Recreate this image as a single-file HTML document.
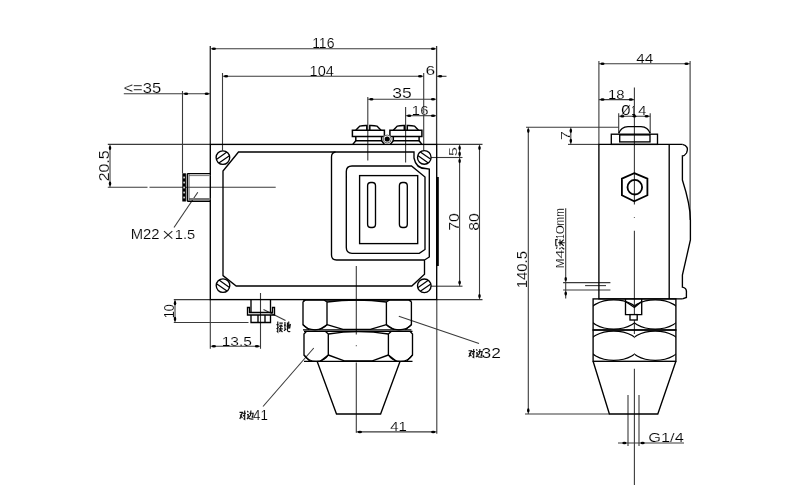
<!DOCTYPE html>
<html><head><meta charset="utf-8"><style>
html,body{margin:0;padding:0;background:#fff;width:800px;height:500px;overflow:hidden}
svg{display:block;filter:grayscale(1)}
.t{font-family:"Liberation Mono",monospace;fill:#000;stroke:#fff;stroke-width:0.2px}
.ts{font-family:"Liberation Sans",sans-serif;fill:#000;stroke:#fff;stroke-width:0.15px}
g.txt{will-change:transform}
</style></head><body>
<svg width="800" height="500" viewBox="0 0 800 500">
<rect width="800" height="500" fill="#fff"/>
<line x1="210.3" y1="46" x2="210.3" y2="144.4" stroke="#333" stroke-width="1.4"/>
<line x1="436.6" y1="46" x2="436.6" y2="144.4" stroke="#333" stroke-width="1.3"/>
<line x1="210.3" y1="48.7" x2="436.6" y2="48.7" stroke="#3a3a3a" stroke-width="1.1"/>
<ellipse cx="213.90" cy="48.70" rx="2.1" ry="1.25" fill="#000"/>
<ellipse cx="433.00" cy="48.70" rx="2.1" ry="1.25" fill="#000"/>
<text x="312.13" y="48.40" font-size="14.44" textLength="22.33" lengthAdjust="spacingAndGlyphs" class="ts">116</text>
<line x1="222.5" y1="73" x2="222.5" y2="150.6" stroke="#3a3a3a" stroke-width="1.1"/>
<line x1="423.7" y1="73" x2="423.7" y2="150.6" stroke="#3a3a3a" stroke-width="1.1"/>
<line x1="222.5" y1="76.3" x2="423.7" y2="76.3" stroke="#3a3a3a" stroke-width="1.1"/>
<line x1="436.6" y1="76.3" x2="446.5" y2="76.3" stroke="#3a3a3a" stroke-width="1.1"/>
<ellipse cx="226.10" cy="76.30" rx="2.1" ry="1.25" fill="#000"/>
<ellipse cx="420.10" cy="76.30" rx="2.1" ry="1.25" fill="#000"/>
<ellipse cx="440.20" cy="76.30" rx="2.1" ry="1.25" fill="#000"/>
<text x="309.57" y="75.60" font-size="13.89" textLength="24.27" lengthAdjust="spacingAndGlyphs" class="ts">104</text>
<text x="425.51" y="75.00" font-size="13.19" textLength="9.68" lengthAdjust="spacingAndGlyphs" class="ts">6</text>
<line x1="367.8" y1="97" x2="367.8" y2="160.6" stroke="#3a3a3a" stroke-width="1.1"/>
<line x1="367.8" y1="99.3" x2="436.6" y2="99.3" stroke="#3a3a3a" stroke-width="1.1"/>
<ellipse cx="371.40" cy="99.30" rx="2.1" ry="1.25" fill="#000"/>
<ellipse cx="433.00" cy="99.30" rx="2.1" ry="1.25" fill="#000"/>
<text x="392.36" y="98.40" font-size="14.03" textLength="19.48" lengthAdjust="spacingAndGlyphs" class="ts">35</text>
<line x1="405.6" y1="107" x2="405.6" y2="162.5" stroke="#3a3a3a" stroke-width="1.1"/>
<line x1="405.6" y1="115.7" x2="436.6" y2="115.7" stroke="#3a3a3a" stroke-width="1.1"/>
<ellipse cx="409.20" cy="115.70" rx="2.1" ry="1.25" fill="#000"/>
<ellipse cx="433.00" cy="115.70" rx="2.1" ry="1.25" fill="#000"/>
<text x="411.89" y="114.60" font-size="13.47" textLength="16.52" lengthAdjust="spacingAndGlyphs" class="ts">16</text>
<line x1="123.8" y1="93.7" x2="210.3" y2="93.7" stroke="#3a3a3a" stroke-width="1.1"/>
<line x1="182.5" y1="91" x2="182.5" y2="173.3" stroke="#3a3a3a" stroke-width="1.1"/>
<ellipse cx="186.10" cy="93.70" rx="2.1" ry="1.25" fill="#000"/>
<ellipse cx="206.70" cy="93.70" rx="2.1" ry="1.25" fill="#000"/>
<text x="123.40" y="92.80" font-size="15.00" textLength="37.80" lengthAdjust="spacingAndGlyphs" class="ts">&lt;=35</text>
<line x1="107.8" y1="144.4" x2="210.3" y2="144.4" stroke="#3a3a3a" stroke-width="1.1"/>
<line x1="107.8" y1="187.3" x2="147.5" y2="187.3" stroke="#3a3a3a" stroke-width="1.1"/>
<line x1="149.5" y1="187.3" x2="275.7" y2="187.3" stroke="#3a3a3a" stroke-width="1.1"/>
<line x1="110" y1="144.4" x2="110" y2="187.3" stroke="#3a3a3a" stroke-width="1.1"/>
<ellipse cx="110.00" cy="148.00" rx="1.25" ry="2.1" fill="#000"/>
<ellipse cx="110.00" cy="183.70" rx="1.25" ry="2.1" fill="#000"/>
<g transform="translate(108.50,180.50) rotate(-90)"><text x="-0.85" y="0" font-size="14.17" textLength="30.90" lengthAdjust="spacingAndGlyphs" class="ts">20.5</text></g>
<line x1="197.8" y1="192.2" x2="174" y2="227.5" stroke="#3a3a3a" stroke-width="1.1"/>
<text x="130.70" y="238.90" font-size="15.00" textLength="28.90" lengthAdjust="spacingAndGlyphs" class="ts">M22</text>
<line x1="164" y1="231.2" x2="172.3" y2="238.6" stroke="#222" stroke-width="1.1"/>
<line x1="172.3" y1="231.2" x2="164" y2="238.6" stroke="#222" stroke-width="1.1"/>
<text x="174.79" y="238.90" font-size="13.47" textLength="20.42" lengthAdjust="spacingAndGlyphs" class="ts">1.5</text>
<line x1="436.6" y1="144.4" x2="482.5" y2="144.4" stroke="#3a3a3a" stroke-width="1.1"/>
<line x1="431" y1="157.5" x2="462.5" y2="157.5" stroke="#3a3a3a" stroke-width="1.1"/>
<line x1="431" y1="286.2" x2="462.5" y2="286.2" stroke="#3a3a3a" stroke-width="1.1"/>
<line x1="437" y1="299.6" x2="482.5" y2="299.6" stroke="#3a3a3a" stroke-width="1.1"/>
<line x1="459.6" y1="144.4" x2="459.6" y2="286.2" stroke="#3a3a3a" stroke-width="1.1"/>
<ellipse cx="459.60" cy="148.00" rx="1.25" ry="2.1" fill="#000"/>
<ellipse cx="459.60" cy="153.90" rx="1.25" ry="2.1" fill="#000"/>
<ellipse cx="459.60" cy="161.10" rx="1.25" ry="2.1" fill="#000"/>
<ellipse cx="459.60" cy="282.60" rx="1.25" ry="2.1" fill="#000"/>
<g transform="translate(456.50,155.30) rotate(-90)"><text x="-0.67" y="0" font-size="11.11" textLength="8.83" lengthAdjust="spacingAndGlyphs" class="ts">5</text></g>
<g transform="translate(459.00,230.00) rotate(-90)"><text x="-0.83" y="0" font-size="13.89" textLength="17.67" lengthAdjust="spacingAndGlyphs" class="ts">70</text></g>
<line x1="479.5" y1="144.4" x2="479.5" y2="299.6" stroke="#3a3a3a" stroke-width="1.1"/>
<ellipse cx="479.50" cy="148.00" rx="1.25" ry="2.1" fill="#000"/>
<ellipse cx="479.50" cy="296.00" rx="1.25" ry="2.1" fill="#000"/>
<g transform="translate(479.00,230.00) rotate(-90)"><text x="-0.83" y="0" font-size="13.89" textLength="17.67" lengthAdjust="spacingAndGlyphs" class="ts">80</text></g>
<line x1="173.8" y1="299.6" x2="210.3" y2="299.6" stroke="#3a3a3a" stroke-width="1.1"/>
<line x1="173.8" y1="322.5" x2="248.5" y2="322.5" stroke="#3a3a3a" stroke-width="1.1"/>
<line x1="175" y1="299.6" x2="175" y2="322.5" stroke="#3a3a3a" stroke-width="1.1"/>
<ellipse cx="175.00" cy="303.20" rx="1.25" ry="2.1" fill="#000"/>
<ellipse cx="175.00" cy="318.90" rx="1.25" ry="2.1" fill="#000"/>
<g transform="translate(173.80,317.50) rotate(-90)"><text x="-0.83" y="0" font-size="13.89" textLength="14.17" lengthAdjust="spacingAndGlyphs" class="ts">10</text></g>
<line x1="210.3" y1="299.6" x2="210.3" y2="348.8" stroke="#3a3a3a" stroke-width="1.1"/>
<line x1="260.5" y1="293" x2="260.5" y2="348.8" stroke="#3a3a3a" stroke-width="1.1"/>
<line x1="210.3" y1="346.3" x2="260.5" y2="346.3" stroke="#3a3a3a" stroke-width="1.1"/>
<ellipse cx="213.90" cy="346.30" rx="2.1" ry="1.25" fill="#000"/>
<ellipse cx="256.90" cy="346.30" rx="2.1" ry="1.25" fill="#000"/>
<text x="221.71" y="345.50" font-size="13.19" textLength="30.28" lengthAdjust="spacingAndGlyphs" class="ts">13.5</text>
<line x1="263.5" y1="309.5" x2="285.5" y2="320.5" stroke="#3a3a3a" stroke-width="1.1"/>
<line x1="398.8" y1="316.3" x2="479" y2="343.5" stroke="#3a3a3a" stroke-width="1.1"/>
<line x1="313.8" y1="348" x2="263" y2="406.5" stroke="#3a3a3a" stroke-width="1.1"/>
<line x1="356.3" y1="266" x2="356.3" y2="334.6" stroke="#3a3a3a" stroke-width="1.1"/>
<circle cx="356.3" cy="345.7" r="0.6" fill="#555"/>
<line x1="356.3" y1="362.4" x2="356.3" y2="432.8" stroke="#3a3a3a" stroke-width="1.1"/>
<line x1="436.8" y1="299.6" x2="436.8" y2="433.8" stroke="#3a3a3a" stroke-width="1.1"/>
<line x1="356.3" y1="431.9" x2="436.8" y2="431.9" stroke="#3a3a3a" stroke-width="1.1"/>
<ellipse cx="359.90" cy="431.90" rx="2.1" ry="1.25" fill="#000"/>
<ellipse cx="433.20" cy="431.90" rx="2.1" ry="1.25" fill="#000"/>
<text x="390.20" y="430.60" font-size="13.33" textLength="16.60" lengthAdjust="spacingAndGlyphs" class="ts">41</text>
<text x="253.08" y="420.00" font-size="15.28" textLength="14.83" lengthAdjust="spacingAndGlyphs" class="ts">41</text>
<text x="481.58" y="358.00" font-size="15.28" textLength="19.33" lengthAdjust="spacingAndGlyphs" class="ts">32</text>
<line x1="598.9" y1="61" x2="598.9" y2="144.4" stroke="#3a3a3a" stroke-width="1.1"/>
<line x1="690.1" y1="61" x2="690.1" y2="220" stroke="#3a3a3a" stroke-width="1.1"/>
<line x1="598.9" y1="63.8" x2="690.1" y2="63.8" stroke="#3a3a3a" stroke-width="1.1"/>
<ellipse cx="602.50" cy="63.80" rx="2.1" ry="1.25" fill="#000"/>
<ellipse cx="686.50" cy="63.80" rx="2.1" ry="1.25" fill="#000"/>
<text x="636.23" y="63.00" font-size="12.92" textLength="17.05" lengthAdjust="spacingAndGlyphs" class="ts">44</text>
<line x1="634.4" y1="87.5" x2="634.4" y2="204.5" stroke="#3a3a3a" stroke-width="1.1"/>
<line x1="634.4" y1="217" x2="634.4" y2="217.8" stroke="#3a3a3a" stroke-width="1.1"/>
<line x1="634.4" y1="230.7" x2="634.4" y2="334" stroke="#3a3a3a" stroke-width="1.1"/>
<line x1="598.9" y1="99.6" x2="634.4" y2="99.6" stroke="#3a3a3a" stroke-width="1.1"/>
<ellipse cx="602.50" cy="99.60" rx="2.1" ry="1.25" fill="#000"/>
<ellipse cx="630.80" cy="99.60" rx="2.1" ry="1.25" fill="#000"/>
<text x="608.02" y="98.80" font-size="12.92" textLength="16.55" lengthAdjust="spacingAndGlyphs" class="ts">18</text>
<line x1="618.7" y1="113.2" x2="618.7" y2="133" stroke="#3a3a3a" stroke-width="1.1"/>
<line x1="650.2" y1="113.2" x2="650.2" y2="133" stroke="#3a3a3a" stroke-width="1.1"/>
<line x1="618.7" y1="116.3" x2="650.2" y2="116.3" stroke="#3a3a3a" stroke-width="1.1"/>
<ellipse cx="622.30" cy="116.30" rx="2.1" ry="1.25" fill="#000"/>
<ellipse cx="646.60" cy="116.30" rx="2.1" ry="1.25" fill="#000"/>
<text x="621.12" y="114.80" font-size="14.63" textLength="9.76" lengthAdjust="spacingAndGlyphs" class="t">Ø</text>
<text x="631.55" y="115.00" font-size="12.50" textLength="4.10" lengthAdjust="spacingAndGlyphs" class="ts">1</text>
<text x="638.18" y="115.00" font-size="13.61" textLength="8.13" lengthAdjust="spacingAndGlyphs" class="ts">4</text>
<ellipse cx="634.4" cy="116.3" rx="1.9" ry="1.2" fill="#000"/>
<line x1="526" y1="127.2" x2="618.7" y2="127.2" stroke="#3a3a3a" stroke-width="1.1"/>
<line x1="568" y1="144.4" x2="598.9" y2="144.4" stroke="#3a3a3a" stroke-width="1.1"/>
<line x1="570.8" y1="127.2" x2="570.8" y2="144.4" stroke="#3a3a3a" stroke-width="1.1"/>
<ellipse cx="570.80" cy="130.80" rx="1.25" ry="2.1" fill="#000"/>
<ellipse cx="570.80" cy="140.80" rx="1.25" ry="2.1" fill="#000"/>
<g transform="translate(569.60,139.20) rotate(-90)"><text x="-0.80" y="0" font-size="13.33" textLength="8.80" lengthAdjust="spacingAndGlyphs" class="ts">7</text></g>
<line x1="528.3" y1="127.2" x2="528.3" y2="414" stroke="#3a3a3a" stroke-width="1.1"/>
<line x1="525" y1="414" x2="609.4" y2="414" stroke="#3a3a3a" stroke-width="1.1"/>
<ellipse cx="528.30" cy="130.80" rx="1.25" ry="2.1" fill="#000"/>
<ellipse cx="528.30" cy="410.40" rx="1.25" ry="2.1" fill="#000"/>
<g transform="translate(527.20,287.40) rotate(-90)"><text x="-0.90" y="0" font-size="15.00" textLength="37.20" lengthAdjust="spacingAndGlyphs" class="ts">140.5</text></g>
<line x1="565.7" y1="208.2" x2="565.7" y2="298.4" stroke="#3a3a3a" stroke-width="1.1"/>
<ellipse cx="565.70" cy="279.00" rx="1.25" ry="2.1" fill="#000"/>
<ellipse cx="565.70" cy="293.60" rx="1.25" ry="2.1" fill="#000"/>
<line x1="563.1" y1="282.6" x2="610.4" y2="282.6" stroke="#3a3a3a" stroke-width="1.1"/>
<line x1="563.1" y1="290" x2="610.4" y2="290" stroke="#3a3a3a" stroke-width="1.1"/>
<line x1="585.1" y1="285.6" x2="606" y2="285.6" stroke="#3a3a3a" stroke-width="1.1"/>
<line x1="628" y1="395" x2="628" y2="446" stroke="#3a3a3a" stroke-width="1.1"/>
<line x1="639" y1="395" x2="639" y2="446" stroke="#3a3a3a" stroke-width="1.1"/>
<line x1="618" y1="443" x2="684" y2="443" stroke="#3a3a3a" stroke-width="1.1"/>
<ellipse cx="624.40" cy="443.00" rx="2.1" ry="1.25" fill="#000"/>
<ellipse cx="642.60" cy="443.00" rx="2.1" ry="1.25" fill="#000"/>
<line x1="634.4" y1="368.8" x2="634.4" y2="485" stroke="#3a3a3a" stroke-width="1.1"/>
<text x="648.25" y="442.00" font-size="12.50" textLength="35.50" lengthAdjust="spacingAndGlyphs" class="ts">G1/4</text>
<rect x="210.3" y="144.4" width="226.4" height="155.2" fill="none" stroke="#000" stroke-width="1.35"/>
<rect x="436.2" y="177" width="2.6" height="89" fill="#000"/>
<path d="M238.5,152 L414,152 L414,158 Q416,168.5 425.5,168.5 L429.3,169 L429.3,257 L424.5,260 L424.5,274.3 L411.8,286 L236.2,286 L223,275.6 L223,171 Z" stroke="#000" stroke-width="1.35" fill="none"/>
<path d="M335.5,152 Q331.5,152.5 331.5,157 L331.5,255 Q331.5,260 336.5,260 L424.5,260" stroke="#000" stroke-width="1.35" fill="none"/>
<path d="M352,166 L411.5,166 L425,177 L425,249.5 L419.3,253.3 L352,253.3 Q346.3,253.3 346.3,247.5 L346.3,171.5 Q346.3,166 352,166 Z" stroke="#000" stroke-width="1.35" fill="none"/>
<rect x="359.6" y="175.6" width="58.1" height="68" fill="none" stroke="#000" stroke-width="1.35"/>
<rect x="367.6" y="182.5" width="7.9" height="45" rx="3.2" fill="none" stroke="#000" stroke-width="1.35"/>
<rect x="399.4" y="182.5" width="7.9" height="45" rx="3.2" fill="none" stroke="#000" stroke-width="1.35"/>
<circle cx="222.9" cy="157.6" r="6.8" fill="#fff" stroke="#000" stroke-width="1.35"/>
<line x1="216.37" y1="159.49" x2="226.91" y2="152.11" stroke="#000" stroke-width="1.2"/>
<line x1="218.89" y1="163.09" x2="229.43" y2="155.71" stroke="#000" stroke-width="1.2"/>
<circle cx="424.3" cy="157.4" r="6.8" fill="#fff" stroke="#000" stroke-width="1.35"/>
<line x1="420.29" y1="151.91" x2="430.83" y2="159.29" stroke="#000" stroke-width="1.2"/>
<line x1="417.77" y1="155.51" x2="428.31" y2="162.89" stroke="#000" stroke-width="1.2"/>
<circle cx="223" cy="285.6" r="6.8" fill="#fff" stroke="#000" stroke-width="1.35"/>
<line x1="218.99" y1="280.11" x2="229.53" y2="287.49" stroke="#000" stroke-width="1.2"/>
<line x1="216.47" y1="283.71" x2="227.01" y2="291.09" stroke="#000" stroke-width="1.2"/>
<circle cx="424.3" cy="285.8" r="6.8" fill="#fff" stroke="#000" stroke-width="1.35"/>
<line x1="417.77" y1="287.69" x2="428.31" y2="280.31" stroke="#000" stroke-width="1.2"/>
<line x1="420.29" y1="291.29" x2="430.83" y2="283.91" stroke="#000" stroke-width="1.2"/>
<path d="M352.4,136.5 L352.4,130.3 L384.4,130.3 L384.4,136.5 Z" stroke="#000" stroke-width="1.5" fill="none"/>
<path d="M355.79999999999995,130.3 L359.79999999999995,126.1 Q362.4,125.4 366.79999999999995,125.5 L366.79999999999995,130.3 M369.79999999999995,130.3 L369.79999999999995,125.5 Q374.4,125.4 377.0,126.1 L381.0,130.3" stroke="#000" stroke-width="1.5" fill="none"/>
<path d="M355.79999999999995,136.5 L355.79999999999995,140.7 L381.59999999999997,140.7 L381.59999999999997,136.5" stroke="#000" stroke-width="1.5" fill="none"/>
<path d="M355.79999999999995,140.7 L352.79999999999995,144.4 M381.59999999999997,140.7 L384.4,144.4" stroke="#000" stroke-width="1.5" fill="none"/>
<path d="M389.9,136.5 L389.9,130.3 L421.9,130.3 L421.9,136.5 Z" stroke="#000" stroke-width="1.5" fill="none"/>
<path d="M393.29999999999995,130.3 L397.29999999999995,126.1 Q399.9,125.4 404.29999999999995,125.5 L404.29999999999995,130.3 M407.29999999999995,130.3 L407.29999999999995,125.5 Q411.9,125.4 414.5,126.1 L418.5,130.3" stroke="#000" stroke-width="1.5" fill="none"/>
<path d="M393.29999999999995,136.5 L393.29999999999995,140.7 L419.09999999999997,140.7 L419.09999999999997,136.5" stroke="#000" stroke-width="1.5" fill="none"/>
<path d="M393.29999999999995,140.7 L390.29999999999995,144.4 M419.09999999999997,140.7 L421.9,144.4" stroke="#000" stroke-width="1.5" fill="none"/>
<circle cx="387.2" cy="139" r="4" fill="#fff" stroke="#666" stroke-width="1"/>
<circle cx="387.2" cy="139" r="2.6" fill="#000"/>
<rect x="182.3" y="173.3" width="3.6" height="28.2" fill="#000"/>
<rect x="183.4" y="176.6" width="1.4" height="1.8" fill="#fff"/>
<rect x="183.4" y="181.6" width="1.4" height="1.8" fill="#fff"/>
<rect x="183.4" y="186.6" width="1.4" height="1.8" fill="#fff"/>
<rect x="183.4" y="191.6" width="1.4" height="1.8" fill="#fff"/>
<rect x="183.4" y="196.6" width="1.4" height="1.8" fill="#fff"/>
<path d="M187.3,173.6 L210.3,173.6 M187.3,201.2 L210.3,201.2 M187.3,173.6 L187.3,201.2" stroke="#000" stroke-width="1.35" fill="none"/>
<line x1="189" y1="175.6" x2="210.3" y2="175.6" stroke="#777" stroke-width="1"/>
<line x1="189" y1="199" x2="210.3" y2="199" stroke="#777" stroke-width="2"/>
<line x1="189" y1="174" x2="189" y2="201" stroke="#555" stroke-width="1"/>
<path d="M251,299.6 L251,312 M270.5,299.6 L270.5,312" stroke="#000" stroke-width="1.35" fill="none"/>
<path d="M247.5,307.5 L247.5,315 L274.5,315 L274.5,307.5 L272.5,307.5 L272.5,312.5 L249.5,312.5 L249.5,307.5 Z" stroke="#000" stroke-width="1.35" fill="none"/>
<path d="M251,315 L251,322.5 L270.5,322.5 L270.5,315 M258,315 L258,322.5 M265,315 L265,322.5" stroke="#000" stroke-width="1.35" fill="none"/>
<path d="M303,300 L411.4,300" stroke="#000" stroke-width="1.35" fill="none"/>
<path d="M305.5,300 L303,302 L303,324.7 L309,329.8 M408.9,300 L411.4,302 L411.4,324.7 L405.4,329.8" stroke="#000" stroke-width="1.35" fill="none"/>
<path d="M324,300 L327,302 L327,324.7 L319,329.8 M389.4,300 L386.4,302 L386.4,324.7 L394.4,329.8" stroke="#000" stroke-width="1.35" fill="none"/>
<path d="M327,302 Q356.7,298 386.4,302 M327,324.7 L343,329.3 L370.4,329.3 L386.4,324.7" stroke="#000" stroke-width="1.35" fill="none"/>
<path d="M303,324.7 Q307,329.8 315.0,329.8 Q323,329.8 327,324.7 M386.4,324.7 Q390.4,329.8 398.9,329.8 Q407.4,329.8 411.4,324.7" stroke="#000" stroke-width="1.35" fill="none"/>
<path d="M303,329.8 L411.4,329.8" stroke="#000" stroke-width="1.35" fill="none"/>
<path d="M304,331.3 L412.5,331.3" stroke="#000" stroke-width="1.35" fill="none"/>
<path d="M306.5,331.3 L304,334 L304,355 L310,361.4 M410.0,331.3 L412.5,334 L412.5,355 L406.5,361.4" stroke="#000" stroke-width="1.35" fill="none"/>
<path d="M325.3,331.3 L328.3,334 L328.3,355 L320.3,361.4 M391.4,331.3 L388.4,334 L388.4,355 L396.4,361.4" stroke="#000" stroke-width="1.35" fill="none"/>
<path d="M328.3,334 Q358.35,329.3 388.4,334 M328.3,355 L344.3,360.9 L372.4,360.9 L388.4,355" stroke="#000" stroke-width="1.35" fill="none"/>
<path d="M304,355 Q308,361.4 316.15,361.4 Q324.3,361.4 328.3,355 M388.4,355 Q392.4,361.4 400.45,361.4 Q408.5,361.4 412.5,355" stroke="#000" stroke-width="1.35" fill="none"/>
<path d="M304,361.4 L412.5,361.4" stroke="#000" stroke-width="1.35" fill="none"/>
<path d="M317.2,361.4 L336.5,414 L380.6,414 L400,361.4" stroke="#000" stroke-width="1.35" fill="none"/>
<path d="M682.4,144.4 L598.9,144.4 L598.9,298.9 L682.4,298.9" stroke="#000" stroke-width="1.35" fill="none"/>
<path d="M669.2,144.4 L669.2,298.9" stroke="#000" stroke-width="1.35" fill="none"/>
<path d="M682.4,144.4 Q689.5,146 686.5,153 Q684.5,156 682.4,156 L682.4,180 Q690.4,205 690.4,220 L690.4,240 L682.4,275.2 L682.4,287.2 Q687,288 686.4,293 L686.4,297.5 L682.4,298.9" stroke="#000" stroke-width="1.35" fill="none"/>
<rect x="611.3" y="134.2" width="46.2" height="10.2" fill="none" stroke="#000" stroke-width="1.35"/>
<rect x="619.7" y="134.9" width="30.3" height="7" fill="none" stroke="#000" stroke-width="1.35"/>
<path d="M618.7,133.5 Q621,127 628,126.6 L641,126.6 Q648,127 650.2,133.5" stroke="#000" stroke-width="1.35" fill="none"/>
<path d="M634.2,173.2 L647.4,178.7 L647.4,195.2 L634.2,201.2 L621.9,195.2 L621.9,178.7 Z" stroke="#000" stroke-width="1.8" fill="none"/>
<circle cx="634.8" cy="187.2" r="7.3" fill="none" stroke="#000" stroke-width="1.8"/>
<rect x="593.1" y="298.9" width="82.8" height="31.100000000000023" fill="none" stroke="#000" stroke-width="1.35"/>
<clipPath id="cn1"><rect x="593.1" y="298.9" width="41.35" height="31.100000000000023"/></clipPath>
<ellipse cx="613.75" cy="314.45" rx="25.4" ry="14.55" fill="none" stroke="#000" stroke-width="1.25" clip-path="url(#cn1)"/>
<clipPath id="cn2"><rect x="634.45" y="298.9" width="41.35" height="31.100000000000023"/></clipPath>
<ellipse cx="655.15" cy="314.45" rx="25.4" ry="14.55" fill="none" stroke="#000" stroke-width="1.25" clip-path="url(#cn2)"/>
<rect x="593.1" y="330" width="82.8" height="31.30000000000001" fill="none" stroke="#000" stroke-width="1.35"/>
<clipPath id="cn3"><rect x="593.1" y="330" width="41.35" height="31.30000000000001"/></clipPath>
<ellipse cx="613.75" cy="345.65" rx="25.4" ry="14.65" fill="none" stroke="#000" stroke-width="1.25" clip-path="url(#cn3)"/>
<clipPath id="cn4"><rect x="634.45" y="330" width="41.35" height="31.30000000000001"/></clipPath>
<ellipse cx="655.15" cy="345.65" rx="25.4" ry="14.65" fill="none" stroke="#000" stroke-width="1.25" clip-path="url(#cn4)"/>
<path d="M625.5,298.9 L625.5,314.6 L641.7,314.6 L641.7,298.9 M625.5,301.5 L634.4,307.5 L641.7,301.5" stroke="#000" stroke-width="1.35" fill="none"/>
<rect x="630" y="314.6" width="7.2" height="5.4" fill="#fff" stroke="#000" stroke-width="1.35"/>
<path d="M593.1,361.3 L609.4,414 L657.8,414 L675.9,361.3" stroke="#000" stroke-width="1.35" fill="none"/>
<g transform="translate(564.20,267.50) rotate(-90)"><text x="-0.70" y="0" font-size="11.67" textLength="9.70" lengthAdjust="spacingAndGlyphs" class="ts">M</text></g>
<g transform="translate(564.20,257.70) rotate(-90)"><text x="-0.70" y="0" font-size="11.67" textLength="8.90" lengthAdjust="spacingAndGlyphs" class="ts">4</text></g>
<g transform="translate(564.20,238.20) rotate(-90)"><text x="-0.70" y="0" font-size="11.67" textLength="4.80" lengthAdjust="spacingAndGlyphs" class="ts">1</text></g>
<g transform="translate(564.20,233.70) rotate(-90)"><text x="-0.70" y="0" font-size="11.67" textLength="9.60" lengthAdjust="spacingAndGlyphs" class="ts">0</text></g>
<g transform="translate(564.20,224.70) rotate(-90)"><text x="-0.74" y="0" font-size="12.26" textLength="17.17" lengthAdjust="spacingAndGlyphs" class="ts">mm</text></g>
<g transform="translate(565,249.5) rotate(-90)">
<path d="M0.78,-8.76 L2.2199999999999998,-7.819999999999999 M0.3,-5.469999999999999 L1.74,-4.5299999999999985 M0.3,-0.7699999999999996 L2.2199999999999998,-3.589999999999999 M3.6599999999999997,-9.229999999999999 L9.9,-9.229999999999999 L9.9,-7.35 M3.6599999999999997,-9.229999999999999 L3.6599999999999997,-7.35 M3.6599999999999997,-4.999999999999999 L9.9,-4.999999999999999 M6.732,-6.879999999999999 L6.732,-0.29999999999999893 M6.732,-4.5299999999999985 L3.6599999999999997,-1.2399999999999984 M6.732,-4.5299999999999985 L9.9,-1.2399999999999984" stroke="#111" stroke-width="1.15" fill="none"/>
</g>
<path d="M239.5,412.3 L242.425,412.3 L239.825,419.05 M240.15,414.55 L242.425,418.15 M242.75,413.2 L246.0,413.2 M244.7,410.5 L244.7,419.5 L243.4,418.6 M243.075,415.0 L243.92,416.35" stroke="#111" stroke-width="1.15" fill="none"/>
<path d="M249.275,413.2 L253.175,413.2 L252.525,417.25 L251.55,416.8 M250.9,410.5 L250.575,415.0 L248.95,417.25 M247.325,410.95 L248.3,412.3 M247,414.55 L248.3,414.55 L247.975,417.7 L247,419.05 M247.975,417.7 Q249.6,419.5 253.5,419.05" stroke="#111" stroke-width="1.15" fill="none"/>
<path d="M468.5,350.7 L471.425,350.7 L468.825,357.075 M469.15,352.825 L471.425,356.225 M471.75,351.55 L475.0,351.55 M473.7,349 L473.7,357.5 L472.4,356.65 M472.075,353.25 L472.92,354.525" stroke="#111" stroke-width="1.15" fill="none"/>
<path d="M478.275,351.55 L482.175,351.55 L481.525,355.375 L480.55,354.95 M479.9,349 L479.575,353.25 L477.95,355.375 M476.325,349.425 L477.3,350.7 M476,352.825 L477.3,352.825 L476.975,355.8 L476,357.075 M476.975,355.8 Q478.6,357.5 482.5,357.075" stroke="#111" stroke-width="1.15" fill="none"/>
<path d="M276.5,324.65 L278.705,324.65 M277.76,321.5 L277.76,332.0 L276.815,330.95 M276.5,328.85 L278.705,327.275 M279.335,323.075 L282.8,323.075 M279.965,324.65 L280.406,325.91 M281.855,324.65 L281.414,325.91 M279.02,326.225 L282.8,326.225 M279.02,328.85 L282.8,328.85 M280.91,326.75 L279.65,332.0 M279.965,329.375 L282.485,332.0" stroke="#111" stroke-width="1.15" fill="none"/>
<path d="M284,325.175 L285.89,325.175 M284.945,322.025 L284.945,329.9 M284,330.95 L286.205,328.85 M286.52,326.225 L290.3,324.65 L289.67,328.325 M287.465,322.55 L287.465,330.425 Q287.78,332.0 290.3,331.475 M288.725,321.5 L288.725,328.85" stroke="#111" stroke-width="1.15" fill="none"/>

</svg>
</body></html>
